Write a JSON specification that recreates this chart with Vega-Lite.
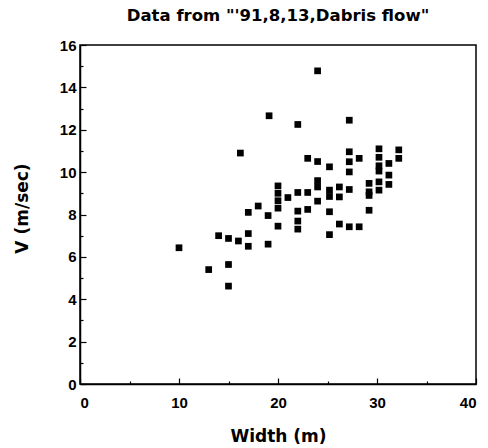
{
  "$schema": "https://vega.github.io/schema/vega-lite/v6.json",
  "width": 396,
  "height": 339,
  "autosize": {"type": "none"},
  "padding": {"left": 80, "top": 45, "right": 12, "bottom": 64},
  "background": "white",
  "title": {
    "text": "Data from \"'91,8,13,Dabris flow\"",
    "font": "DejaVu Sans",
    "fontSize": 16.5,
    "fontWeight": "bold",
    "color": "black",
    "offset": 14
  },
  "config": {
    "view": {"stroke": "black", "strokeWidth": 1.5},
    "axis": {
      "labelFont": "Liberation Sans",
      "labelFontSize": 15,
      "labelFontWeight": "bold",
      "labelColor": "black",
      "titleFont": "DejaVu Sans",
      "titleFontSize": 17,
      "titleFontWeight": "bold",
      "titleColor": "black",
      "domainColor": "black",
      "domainWidth": 1.5,
      "tickColor": "black",
      "tickWidth": 1.2,
      "grid": false
    }
  },
  "data": {
    "values": [
      {"w": 10, "v": 6.43}, {"w": 13, "v": 5.4}, {"w": 14, "v": 7.0}, {"w": 15, "v": 6.87},
      {"w": 15, "v": 5.64}, {"w": 15, "v": 4.62}, {"w": 16, "v": 6.75}, {"w": 16.2, "v": 10.9},
      {"w": 17, "v": 8.1}, {"w": 17, "v": 7.1}, {"w": 17, "v": 6.5}, {"w": 18, "v": 8.4},
      {"w": 19, "v": 7.95}, {"w": 19, "v": 6.6}, {"w": 19.1, "v": 12.66}, {"w": 20, "v": 9.35},
      {"w": 20, "v": 9.0}, {"w": 20, "v": 8.65}, {"w": 20, "v": 8.3}, {"w": 20, "v": 7.45},
      {"w": 21, "v": 8.8}, {"w": 22, "v": 12.25}, {"w": 22, "v": 9.04}, {"w": 22, "v": 8.16},
      {"w": 22, "v": 7.69}, {"w": 22, "v": 7.31}, {"w": 23, "v": 10.65}, {"w": 23, "v": 9.04},
      {"w": 23, "v": 8.24}, {"w": 24, "v": 14.78}, {"w": 24, "v": 10.5}, {"w": 24, "v": 9.6},
      {"w": 24, "v": 9.3}, {"w": 24, "v": 8.63}, {"w": 25.2, "v": 10.25}, {"w": 25.2, "v": 9.15},
      {"w": 25.2, "v": 8.85}, {"w": 25.2, "v": 8.13}, {"w": 25.2, "v": 7.05}, {"w": 26.2, "v": 9.3},
      {"w": 26.2, "v": 8.83}, {"w": 26.2, "v": 7.55}, {"w": 27.2, "v": 12.45}, {"w": 27.2, "v": 10.96},
      {"w": 27.2, "v": 10.49}, {"w": 27.2, "v": 10.01}, {"w": 27.2, "v": 9.18}, {"w": 27.2, "v": 7.42},
      {"w": 28.2, "v": 10.65}, {"w": 28.2, "v": 7.42}, {"w": 29.2, "v": 9.47}, {"w": 29.2, "v": 9.07},
      {"w": 29.2, "v": 8.9}, {"w": 29.2, "v": 8.2}, {"w": 30.2, "v": 11.1}, {"w": 30.2, "v": 10.7},
      {"w": 30.2, "v": 10.3}, {"w": 30.2, "v": 10.05}, {"w": 30.2, "v": 9.54}, {"w": 30.2, "v": 9.15},
      {"w": 31.2, "v": 10.41}, {"w": 31.2, "v": 9.86}, {"w": 31.2, "v": 9.42}, {"w": 32.2, "v": 11.05},
      {"w": 32.2, "v": 10.65}
    ]
  },
  "mark": {"type": "point", "shape": "square", "filled": true, "color": "black", "opacity": 1, "size": 45},
  "encoding": {
    "x": {
      "field": "w", "type": "quantitative",
      "scale": {"domain": [0, 40], "nice": false, "zero": false},
      "axis": {
        "title": "Width  (m)",
        "values": [0, 5, 10, 15, 20, 25, 30, 35, 40],
        "labelExpr": "datum.value % 10 === 0 ? datum.label : ''",
        "tickSize": {"condition": {"test": "datum.value % 10 === 0", "value": -6}, "value": -3},
        "labelPadding": 17,
        "titleY": 52,
        "titleBaseline": "middle"
      }
    },
    "y": {
      "field": "v", "type": "quantitative",
      "scale": {"domain": [0, 16], "nice": false, "zero": false},
      "axis": {
        "title": "V  (m/sec)",
        "values": [0, 1, 2, 3, 4, 5, 6, 7, 8, 9, 10, 11, 12, 13, 14, 15, 16],
        "labelExpr": "datum.value % 2 === 0 ? datum.label : ''",
        "tickSize": {"condition": {"test": "datum.value % 2 === 0", "value": -6}, "value": -3},
        "labelPadding": 10,
        "titleX": -58,
        "titleY": 163,
        "titleBaseline": "middle"
      }
    }
  }
}
